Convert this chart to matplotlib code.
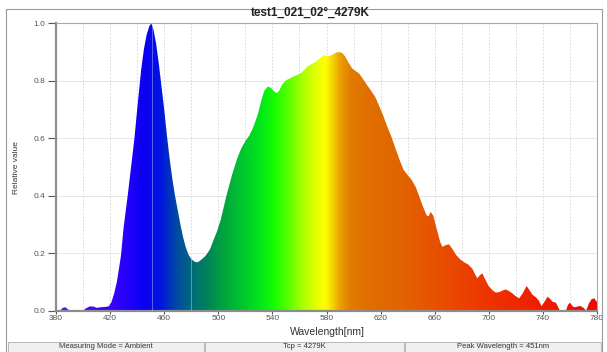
import numpy as np
import matplotlib
matplotlib.use('Agg')
import matplotlib.pyplot as plt
from matplotlib.colors import LinearSegmentedColormap
from matplotlib.patches import Polygon, Rectangle

plt.rcParams['font.family'] = ['Liberation Sans', 'DejaVu Sans']

title = 'test1_021_02°_4279K'
status_items = ['Measuring Mode = Ambient', 'Tcp = 4279K', 'Peak Wavelength = 451nm']
peak_nm = 451

# relative spectral power
wavelength = [380, 383, 385, 387, 389, 391, 400, 402, 405, 408, 410, 413, 416, 419,
              421, 423, 425, 428, 430, 433, 435, 438, 440, 443, 445, 447, 449, 450.5,
              452, 454, 456, 458, 460, 462, 464, 466, 468, 470, 472, 474, 476, 478,
              480, 482, 484, 486, 488, 490, 492, 494, 496, 499, 502, 506, 510, 514,
              517, 520, 523, 526, 529, 532, 534, 536.5, 539, 541, 543, 545, 547, 549.6,
              552, 555, 558, 561, 564, 566, 569, 572, 575, 578, 581, 584, 587, 590,
              592, 594, 596, 599, 602, 604, 607, 610, 613, 616, 619, 622, 625, 628,
              631, 634, 637, 640, 643, 646, 648, 651, 654, 655.5, 657, 659, 662, 664,
              665.7, 668, 670.6, 673, 676, 679, 682, 685, 688, 690, 691.6, 693.5, 695.3,
              697, 700, 703, 705.2, 708, 710, 712.6, 715, 717.5, 720, 722.5, 725, 728,
              730, 732.4, 735, 737, 739, 741, 743.5, 745.5, 747.2, 749.6, 751, 752.6,
              757, 758.5, 760, 762, 763.5, 766, 768, 770, 772, 774, 776, 778, 780]
relative = [0.0, 0.0, 0.01, 0.012, 0.004, 0.0, 0.0, 0.008, 0.015, 0.014, 0.01, 0.012, 0.013, 0.015,
            0.03, 0.06, 0.10, 0.19, 0.29, 0.40, 0.48, 0.60, 0.70, 0.84, 0.91, 0.96, 0.99, 1.0,
            0.98, 0.93, 0.86, 0.78, 0.70, 0.61, 0.53, 0.46, 0.40, 0.35, 0.30, 0.255, 0.22, 0.195,
            0.18, 0.172, 0.168, 0.172, 0.18, 0.188, 0.20, 0.215, 0.24, 0.275, 0.32, 0.40, 0.47, 0.53,
            0.565, 0.59, 0.61, 0.64, 0.68, 0.735, 0.765, 0.78, 0.775, 0.765, 0.757, 0.765, 0.785, 0.80,
            0.806, 0.814, 0.82, 0.826, 0.84, 0.85, 0.858, 0.866, 0.878, 0.889, 0.884, 0.89, 0.898, 0.90,
            0.895, 0.883, 0.865, 0.843, 0.832, 0.826, 0.806, 0.785, 0.765, 0.744, 0.712, 0.678, 0.64, 0.605,
            0.565, 0.525, 0.49, 0.472, 0.455, 0.43, 0.405, 0.366, 0.332, 0.328, 0.344, 0.33, 0.275, 0.24,
            0.222, 0.228, 0.231, 0.215, 0.193, 0.178, 0.168, 0.16, 0.145, 0.125, 0.113, 0.124, 0.13,
            0.112, 0.085, 0.07, 0.063, 0.065, 0.07, 0.074, 0.068, 0.06, 0.05, 0.043, 0.06, 0.086,
            0.072, 0.055, 0.046, 0.035, 0.016, 0.03, 0.049, 0.04, 0.031, 0.028, 0.015, 0.0,
            0.0, 0.02, 0.028, 0.015, 0.012, 0.015, 0.016, 0.01, 0.0, 0.025, 0.04, 0.043, 0.03]

# approximate visible spectrum colours by wavelength
spec_stops = [(380, '#5a12e6'), (420, '#3a00ff'), (445, '#0a00f5'), (458, '#0018dc'),
              (468, '#0048a8'), (480, '#006a78'), (492, '#008458'), (502, '#00a040'),
              (515, '#00c032'), (530, '#00e41c'), (542, '#18ff00'), (552, '#5cff00'),
              (562, '#a8ff00'), (572, '#e0ff00'), (579, '#ffff00'), (584, '#f6d800'),
              (590, '#eca000'), (598, '#e27c00'), (610, '#e07000'), (635, '#e26400'),
              (665, '#e84e00'), (700, '#ee3400'), (740, '#f01c00'), (780, '#f00800')]
spec_cmap = LinearSegmentedColormap.from_list(
    'spec', [((w - 380) / 400, c) for w, c in spec_stops])

fig = plt.figure(figsize=(6.07, 3.52), dpi=100)
fig.patch.set_facecolor('white')
ax = fig.add_axes([56 / 607, 1 - 310.7 / 352, 541 / 607, 287.4 / 352])

# spectrum-coloured area under the curve
grad = ax.imshow(np.linspace(380, 780, 1200)[None, :], extent=[380, 780, 0, 1],
                 aspect='auto', cmap=spec_cmap, vmin=380, vmax=780, zorder=2,
                 interpolation='bilinear')
outline = np.column_stack([[wavelength[0]] + wavelength + [wavelength[-1]],
                           [0] + relative + [0]])
clip = Polygon(outline, closed=True, facecolor='none', edgecolor='none')
ax.add_patch(clip)
grad.set_clip_path(clip)

for x in [peak_nm, 480]:
    ln = ax.axvline(x, color='white', lw=0.7, alpha=0.35, zorder=3)
    ln.set_clip_path(clip)

ax.set_xlim(380, 780)
ax.set_ylim(0, 1)
ax.set_xticks(np.arange(380, 781, 40))
ax.set_xticks(np.arange(380, 781, 20), minor=True)
ax.set_yticks(np.arange(0, 1.01, 0.2))
ax.set_yticklabels([f'{v:.1f}' for v in np.arange(0, 1.01, 0.2)])
ax.grid(True, which='both', axis='x', color='#d4d4d4', ls=(0, (2, 2)), lw=0.6, zorder=0)
ax.grid(True, axis='y', color='#e2e2e2', ls='-', lw=0.6, zorder=0)
ax.tick_params(axis='y', which='major', labelsize=6, colors='#555555',
               length=6, width=0.8, pad=1.5)
ax.tick_params(axis='x', which='major', labelsize=6, colors='#555555',
               length=2.5, width=0.8, pad=0.5)
ax.tick_params(axis='x', which='minor', length=0)
for s in ['left', 'bottom']:
    ax.spines[s].set_color('#8c8c8c')
    ax.spines[s].set_linewidth(1.6)
for s in ['top', 'right']:
    ax.spines[s].set_color('#a8a8a8')
    ax.spines[s].set_linewidth(0.8)

fig.text(310 / 607, 1 - 13 / 352, title, ha='center', va='center',
         fontsize=8.5, fontweight='bold', color='#222222')
fig.text(17 / 607, 1 - 168 / 352, 'Relative value', rotation=90,
         ha='center', va='center', fontsize=6, color='#333333')
fig.text(327 / 607, 1 - 332 / 352, 'Wavelength[nm]', ha='center', va='center',
         fontsize=7.5, color='#333333')

# outer frame and status bar
fig.add_artist(Rectangle((5.5 / 607, 0), 596 / 607, 1 - 8.5 / 352,
                         transform=fig.transFigure, fill=False,
                         edgecolor='#9a9a9a', lw=0.8))
cells = [(7.5, 204), (205, 404), (405, 601)]
for (x0, x1), txt in zip(cells, status_items):
    fig.add_artist(Rectangle((x0 / 607, 0), (x1 - x0) / 607, 10 / 352,
                             transform=fig.transFigure, facecolor='#efefef',
                             edgecolor='#b8b8b8', lw=0.7))
    fig.text((x0 + x1) / 2 / 607, 5 / 352, txt, ha='center', va='center',
             fontsize=5.5, color='#333333')

fig.savefig('out.png', dpi=100)
